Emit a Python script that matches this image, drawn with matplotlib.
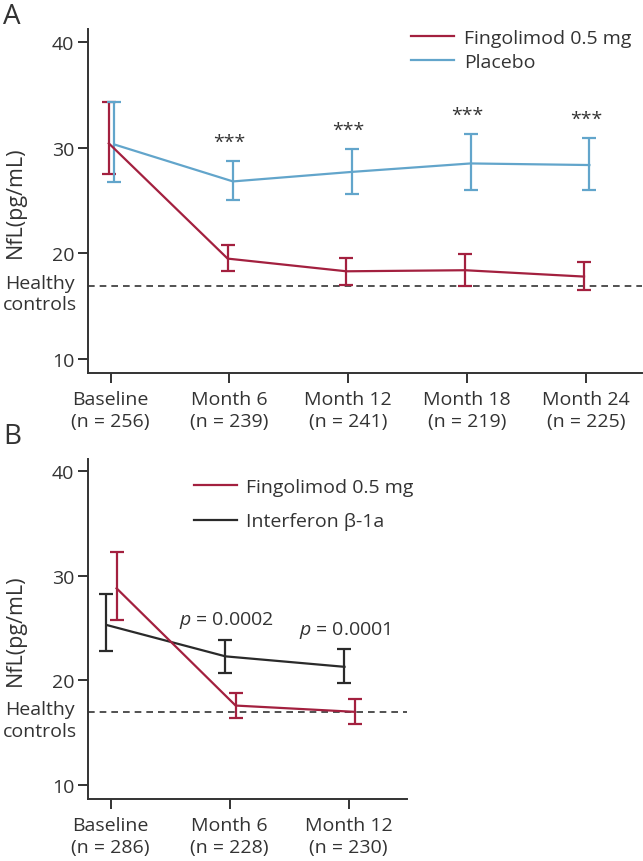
import numpy as np
import matplotlib
matplotlib.use('Agg')
import matplotlib.pyplot as plt
import matplotlib.transforms as mtransforms
from matplotlib.lines import Line2D

plt.rcParams['font.family'] = ['Open Sans', 'DejaVu Sans']
plt.rcParams['mathtext.fontset'] = 'custom'
plt.rcParams['mathtext.it'] = 'Open Sans:italic'
plt.rcParams['mathtext.rm'] = 'Open Sans'

# Panel A data
labels_a = ['Baseline\n(n = 256)', 'Month 6\n(n = 239)', 'Month 12\n(n = 241)',
            'Month 18\n(n = 219)', 'Month 24\n(n = 225)']
fingo_a = [30.4, 19.5, 18.3, 18.4, 17.8]
fingo_a_lo = [27.5, 18.3, 17.0, 16.9, 16.5]
fingo_a_hi = [34.3, 20.8, 19.6, 19.9, 19.2]
plac_a = [30.3, 26.8, 27.7, 28.5, 28.35]
plac_a_lo = [26.7, 25.0, 25.6, 26.0, 25.95]
plac_a_hi = [34.3, 28.7, 29.9, 31.3, 30.95]
stars_a = ['', '***', '***', '***', '***']

# Panel B data
labels_b = ['Baseline\n(n = 286)', 'Month 6\n(n = 228)', 'Month 12\n(n = 230)']
fingo_b = [28.8, 17.6, 17.0]
fingo_b_lo = [25.75, 16.4, 15.8]
fingo_b_hi = [32.3, 18.8, 18.2]
ifn_b = [25.3, 22.3, 21.3]
ifn_b_lo = [22.8, 20.7, 19.8]
ifn_b_hi = [28.3, 23.9, 23.0]
pvals_b = ['', '$p$ = 0.0002', '$p$ = 0.0001']

healthy = 16.95

RED = '#a3203f'
BLUE = '#62a5cb'
BLACK = '#2a2a2a'
AXC = '#333333'
FS = 14

fig = plt.figure(figsize=(6.43, 8.62), dpi=100)
ax_a = fig.add_axes([0.1369, 0.566, 0.861, 0.399])
ax_b = fig.add_axes([0.1369, 0.0719, 0.496, 0.395])


def style(ax, labels, xmax):
    for s in ['top', 'right']:
        ax.spines[s].set_visible(False)
    for s in ['left', 'bottom']:
        ax.spines[s].set_color(AXC)
        ax.spines[s].set_linewidth(1.4)
    ax.set_xticks(range(len(labels)))
    ax.set_xticklabels(labels, fontsize=FS, color=AXC, linespacing=1.3)
    ax.set_yticks([10, 20, 30, 40])
    ax.tick_params(axis='y', labelsize=FS, colors=AXC, length=7, width=1.4, pad=3)
    ax.tick_params(axis='x', colors=AXC, length=7, width=1.4, pad=5)
    ax.set_xlim(-0.19, xmax)
    ax.set_ylim(8.67, 41.2)
    ax.set_ylabel('NfL(pg/mL)', fontsize=15.5, color=AXC)
    # right edge of the rotated y label sits ~26 px from the figure's left edge
    bb = ax.get_position()
    ax.yaxis.set_label_coords((26 / 643 - bb.x0) / bb.width, 0.5)
    ax.axhline(healthy, color=AXC, ls=(0, (4, 3)), lw=1.2, zorder=1)
    tr = mtransforms.blended_transform_factory(fig.transFigure, ax.transData)
    ax.text(40 / 643, healthy - 0.75, 'Healthy\ncontrols', transform=tr, ha='center',
            va='center', fontsize=FS, color=AXC, linespacing=1.25, clip_on=False)


def series(ax, y, lo, hi, off, color):
    x = np.arange(len(y)) + off
    y = np.array(y)
    err = [y - np.array(lo), np.array(hi) - y]
    ax.errorbar(x, y, yerr=err, color=color, lw=1.6, elinewidth=1.6,
                capsize=4.7, capthick=1.6, zorder=3)


def legend(ax, items, anchor, spacing):
    handles = [Line2D([0], [0], color=c, lw=1.6) for c, _ in items]
    leg = ax.legend(handles, [t for _, t in items], loc='upper left', bbox_to_anchor=anchor,
                    frameon=False, fontsize=FS, handlelength=2.2, handletextpad=0.5,
                    labelspacing=spacing, borderpad=0, borderaxespad=0)
    for t in leg.get_texts():
        t.set_color(AXC)


# Panel A
series(ax_a, fingo_a, fingo_a_lo, fingo_a_hi, -0.015, RED)
series(ax_a, plac_a, plac_a_lo, plac_a_hi, 0.03, BLUE)
style(ax_a, labels_a, 4.47)
for i, s in enumerate(stars_a):
    if s:
        ax_a.text(i, plac_a_hi[i] + 1.8, s, ha='center', va='center', fontsize=FS, color=AXC)
legend(ax_a, [(RED, 'Fingolimod 0.5 mg'), (BLUE, 'Placebo')], (0.584, 1.0), 0.3)

# Panel B
series(ax_b, ifn_b, ifn_b_lo, ifn_b_hi, -0.035, BLACK)
series(ax_b, fingo_b, fingo_b_lo, fingo_b_hi, 0.05, RED)
style(ax_b, labels_b, 2.49)
for i, s in enumerate(pvals_b):
    if s:
        ax_b.text(i - 0.03, ifn_b_hi[i] + 1.9, s, ha='center', va='center', fontsize=FS, color=AXC)
legend(ax_b, [(RED, 'Fingolimod 0.5 mg'), (BLACK, 'Interferon β-1a')], (0.332, 0.943), 0.85)

fig.text(0.005, 0.997, 'A', fontsize=20, color=AXC, ha='left', va='top')
fig.text(0.005, 0.509, 'B', fontsize=20, color=AXC, ha='left', va='top')

fig.savefig('out.png', dpi=100)
